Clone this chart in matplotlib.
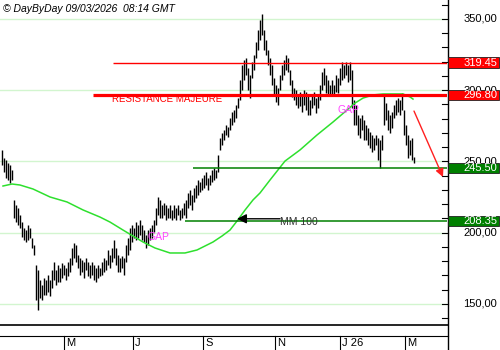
import matplotlib
matplotlib.use("Agg")
import matplotlib.pyplot as plt
from matplotlib.lines import Line2D
from matplotlib.patches import Rectangle
import matplotlib.transforms as mtransforms

plt.rcParams['font.family'] = ['Liberation Sans', 'DejaVu Sans']

# ---------------- data ----------------
highs = [258.0, 252.4, 251.0, 248.9, 247.5, 244.0,
         223.0, 219.4, 217.3, 212.4, 207.5, 203.3, 201.9, 205.4, 203.3, 196.3, 191.3,
         177.3, 173.8, 166.8, 163.2, 168.2, 166.8, 170.3, 166.8, 173.8, 179.4, 173.8,
         177.3, 175.2, 178.7, 177.3, 175.2, 179.4, 182.2, 189.2, 192.7, 191.3, 184.3,
         182.2, 180.8, 179.4, 182.2, 179.4, 177.3, 179.4, 177.3, 175.2, 177.3, 175.2,
         179.4, 182.2, 180.8, 187.9, 184.3, 189.2, 194.9, 189.2, 184.3, 182.2, 183.6,
         182.2, 191.3, 196.3, 203.3, 205.4, 203.3, 207.5, 205.4, 208.9, 205.4, 201.9,
         198.4, 201.9, 203.3, 205.4, 208.9, 217.3, 225.1, 223.0, 219.4, 220.8, 219.4,
         217.3, 219.4, 215.9, 219.4, 217.3, 219.4, 215.9, 217.3, 220.8, 223.0, 227.9,
         230.0, 226.5, 231.4, 233.5, 237.0, 235.6, 238.4, 240.5, 242.6, 238.4, 240.5,
         244.0, 245.4, 244.0, 254.5, 266.5, 270.0, 272.1, 275.6, 274.2, 280.5, 284.7,
         286.1, 289.6, 294.5, 307.2, 317.7, 321.2, 322.6, 315.6, 310.7, 319.8, 324.7,
         333.8, 342.2, 349.3, 353.5, 342.2, 335.2, 328.2, 322.6, 317.7, 308.6, 303.6,
         301.5, 310.7, 317.7, 321.2, 324.7, 322.6, 314.2, 307.2, 301.5, 300.1, 296.6,
         298.7, 296.6, 300.1, 298.7, 296.6, 293.1, 296.6, 298.7, 294.5, 296.6, 303.6,
         312.8, 315.6, 310.7, 307.2, 303.6, 307.2, 303.6, 310.7, 308.6, 315.6, 319.8,
         317.7, 319.8, 317.7, 319.8, 314.2, 293.1, 289.6, 282.6, 280.5, 282.6, 279.1,
         275.6, 273.5, 270.7, 268.6, 266.5, 268.6, 266.5, 265.1, 268.6, 296.6, 291.0,
         286.1, 282.6, 284.7, 289.6, 293.1, 294.5, 293.1, 298.0, 286.1, 275.6, 268.6,
         265.1, 266.5, 253.1]
lows = [247.5, 242.6, 238.4, 237.0, 234.9, 237.0,
        210.3, 207.5, 205.4, 203.3, 197.0, 194.9, 193.5, 194.9, 196.2, 189.2, 184.3,
        152.7, 145.7, 154.1, 152.7, 156.2, 156.2, 158.3, 155.5, 161.1, 166.8, 163.2,
        165.4, 165.4, 168.2, 170.3, 166.8, 169.6, 172.4, 177.3, 182.2, 179.4, 175.2,
        170.3, 172.4, 168.2, 173.8, 169.6, 168.2, 170.3, 166.8, 165.4, 168.2, 169.6,
        170.3, 172.4, 173.8, 177.3, 175.2, 179.4, 182.2, 177.3, 172.4, 172.4, 175.2,
        170.3, 179.4, 184.3, 187.9, 193.5, 196.3, 194.9, 196.3, 198.4, 194.9, 193.5,
        189.2, 191.3, 194.9, 196.3, 200.5, 205.4, 212.4, 210.3, 210.3, 212.4, 208.9,
        210.3, 210.3, 208.9, 210.3, 208.9, 212.4, 208.9, 210.3, 212.4, 210.3, 217.3,
        219.4, 216.0, 221.5, 224.4, 226.5, 228.6, 230.0, 231.4, 233.5, 230.0, 233.5,
        235.6, 237.0, 238.4, 242.6, 258.0, 261.5, 265.1, 268.6, 267.2, 272.1, 275.6,
        277.7, 280.5, 287.5, 293.1, 300.2, 307.2, 310.7, 300.2, 294.5, 308.6, 314.2,
        322.6, 328.2, 335.2, 338.7, 328.2, 324.7, 317.7, 310.7, 303.6, 296.6, 291.7,
        289.6, 300.2, 307.2, 310.7, 314.2, 312.8, 303.6, 295.2, 293.1, 289.6, 287.5,
        288.9, 284.7, 289.6, 286.1, 282.6, 282.6, 287.5, 289.6, 284.0, 287.5, 293.1,
        300.1, 303.6, 298.0, 296.6, 296.6, 297.4, 296.6, 298.7, 298.0, 303.6, 307.2,
        308.6, 310.7, 305.8, 307.2, 287.5, 275.6, 275.6, 268.6, 266.5, 272.1, 265.1,
        265.1, 261.5, 259.4, 256.6, 258.0, 261.5, 251.0, 245.4, 258.0, 275.6, 279.1,
        272.1, 270.0, 273.5, 280.5, 282.6, 284.7, 282.6, 286.1, 268.6, 261.5, 252.4,
        254.5, 251.0, 248.9]

ma_idx = [0.5, 5, 9, 15.5, 24, 32.5, 40.5, 49, 54, 60.5, 65.5, 70.5, 76.5, 84, 91.5,
          97.5, 101.5, 105.5, 110, 114, 117.5, 121.5, 125.5, 129, 134, 141.5, 149,
          157.5, 165.5, 172.5, 176.5, 180.5, 185.5, 190.5, 196.5, 200.5, 204, 205.5]
ma_vals = [232.8, 234.2, 233.5, 230.7, 225.1, 221.6, 216.0, 211.0, 207.5, 201.9, 197.7,
           193.5, 189.3, 185.8, 185.8, 187.9, 190.7, 193.5, 197.7, 201.9, 208.2, 215.9,
           223.0, 227.9, 237.0, 250.3, 258.1, 268.6, 277.7, 286.1, 291.0, 294.5, 296.7,
           297.4, 297.4, 297.4, 295.3, 293.8]

month_labels = ["M", "J", "S", "N", "J 26", "M"]
month_pos = [31, 65.5, 100.5, 136.5, 169, 201.5]

yticks_major = [150, 200, 250, 300, 350]
levels_red = [319.45, 296.80]
levels_green = [245.50, 208.35]
header = "\u00a9 DayByDay 09/03/2026  08:14 GMT"

# ---------------- figure ----------------
W, H = 500, 350
fig = plt.figure(figsize=(5, 3.5), dpi=100)
fig.patch.set_facecolor("white")

def fx(px):
    return px / W

def fy(py):
    return 1 - py / H

ax = fig.add_axes([0, fy(324), fx(447), 324 / H])
ax.set_xlim(-1, 222.5)
ax.set_ylim(135.96, 363.33)
for s in ax.spines.values():
    s.set_visible(False)
ax.set_xticks([])
ax.set_yticks([])
ax.set_facecolor("white")

# grid lines
for v in yticks_major:
    ax.axhline(v, color="#d2f5cf", lw=1.0, zorder=1)

# price bars
xs = list(range(len(highs)))
ax.vlines(xs, lows, highs, color="black", lw=1.0, zorder=3)

# moving average
ax.plot(ma_idx, ma_vals, color="#2ee02e", lw=1.1, zorder=4)

# horizontal levels
ax.hlines(levels_red[0], 55.5, 222.5, color="#ff0000", lw=1.0, zorder=5)
ax.hlines(levels_red[1], 45.5, 222.5, color="#ff0000", lw=2.3, zorder=5)
ax.hlines(levels_green[0], 95.5, 222.5, color="#008000", lw=1.1, zorder=5)
ax.hlines(levels_green[1], 91.5, 222.5, color="#008000", lw=1.1, zorder=5)

# annotations
ax.text(55, 293.8, "RESISTANCE MAJEURE", color="#ff0000", fontsize=7, va="center",
        ha="left", zorder=6)
ax.text(73, 197.0, "GAP", color="#ff44ff", fontsize=7.5, va="center", ha="left", zorder=6)
ax.text(167.5, 286.1, "GAP", color="#ff44ff", fontsize=7.5, va="center", ha="left", zorder=6)
ax.text(139, 207.6, "MM 100", color="#333333", fontsize=7.5, va="center", ha="left", zorder=6)
ax.annotate("", xy=(117.5, 209.8), xytext=(139, 209.8),
            arrowprops=dict(arrowstyle="-|>", color="black", lw=1.0,
                            mutation_scale=14, shrinkA=0, shrinkB=0), zorder=6)
ax.annotate("", xy=(220.5, 239.1), xytext=(206, 285.4),
            arrowprops=dict(arrowstyle="-|>", color="#ff2020", lw=1.0,
                            mutation_scale=12, shrinkA=0, shrinkB=0), zorder=6)

# header
fig.text(fx(3), fy(9), header, fontsize=7.5, style="italic", ha="left", va="center")

# frame lines
fig.add_artist(Line2D([fx(447.5), fx(447.5)], [0, 1], color="black", lw=1.0,
                      transform=fig.transFigure))
fig.add_artist(Line2D([0, fx(447.5)], [fy(324.5), fy(324.5)], color="black", lw=1.2,
                      transform=fig.transFigure))
fig.add_artist(Line2D([0, fx(447.5)], [fy(335.5), fy(335.5)], color="black", lw=0.8,
                      transform=fig.transFigure))

# right axis ticks and labels
blend = mtransforms.blended_transform_factory(fig.transFigure, ax.transData)
for v in range(140, 361, 10):
    ax.add_line(Line2D([fx(442), fx(447.5)], [v, v], color="black", lw=0.8,
                       transform=blend, clip_on=False))
for v in yticks_major:
    fig.text(fx(497), v, f"{v},00", fontsize=8, ha="right", va="center",
             transform=blend, zorder=8)
for v in levels_red + levels_green:
    col = "#ff0000" if v in levels_red else "#008000"
    fig.add_artist(Rectangle((fx(448), v - 3.6), fx(51), 7.2, transform=blend,
                             facecolor=col, edgecolor="#202020", lw=0.6,
                             clip_on=False, zorder=10))
    fig.text(fx(497), v, f"{v:.2f}", fontsize=8, ha="right", va="center",
             color="white", transform=blend, zorder=11)

# month axis
xblend = mtransforms.blended_transform_factory(ax.transData, fig.transFigure)
lab_tr = mtransforms.offset_copy(xblend, fig=fig, x=2, y=0, units="dots")
for pos, lab in zip(month_pos, month_labels):
    fig.add_artist(Line2D([pos, pos], [fy(335.5), 0], color="black", lw=0.8,
                          transform=xblend))
    fig.text(pos, fy(343), lab, fontsize=8, ha="left", va="center", transform=lab_tr)

fig.savefig("out.png", dpi=100)
